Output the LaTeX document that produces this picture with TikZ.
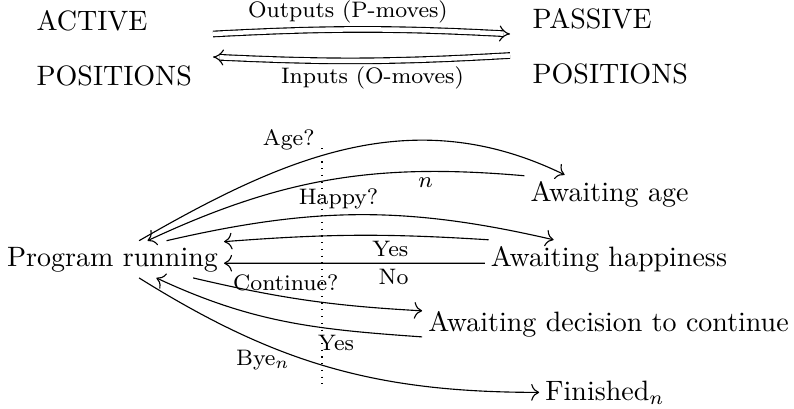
\documentclass[tikz,border=0pt]{standalone}
\usetikzlibrary{arrows.meta,calc}
\tikzstyle{situation}=[inner sep=2pt]
\tikzstyle{block}=[inner sep=0pt, align=left]
\tikzstyle{lbl}=[font=\footnotesize, inner sep=2pt]
\tikzstyle{move}=[draw, -{To[scale=1.15]}]
\tikzstyle{dmove}=[draw, double, double distance=1.6pt, -{Implies}]

\begin{document}
\begin{tikzpicture}[x=0.357pt, y=0.357pt]
  \useasboundingbox (0,0) rectangle (794,408);

  % position blocks
  \node[block, text width=62.8pt, anchor=north west] (active) at (36,398) {ACTIVE\\[7.6pt]POSITIONS};
  \node[block, anchor=north west] (passive) at (532,400) {PASSIVE\\[7.6pt]POSITIONS};

  % moves between them
  \draw[dmove] ($(active.north east)+(0,-24)$) to[bend left=3]
    node[lbl, above, pos=.45] {Outputs (P-moves)} ($(passive.north west)+(-22,-26)$);
  \draw[dmove] ($(passive.north west)+(-22,-47.5)$) to[bend left=3]
    node[lbl, below, pos=.46] {Inputs (O-moves)} ($(active.north east)+(0,-47)$);

  % states
  \node[situation, anchor=base] (prog) at (112.5,142) {Program running};
  \node[situation, anchor=base] (age) at (609.5,207) {Awaiting age};
  \node[situation, anchor=base] (hap) at (609,142) {Awaiting happiness};
  \node[situation, anchor=base] (dec) at (608.5,77) {Awaiting decision to continue};
  \node[situation, anchor=base] (fin) at (605,8) {Finished$_n$};

  \draw[dotted] (322,260) -- (322,18);

  % transitions
  \draw[move] (prog.35) to[out=30, in=154] node[lbl, pos=.43, anchor=south east] {Age?} (age.157);
  \draw[move] (age.168) to[out=175, in=25] node[lbl, pos=.24, below] {$n$} (prog.28);
  \draw[move] (prog.19) to[out=13, in=167] node[lbl, pos=.44, above] {Happy?} (hap.161);
  \draw[move] (hap.171) to[bend right=4] node[lbl, pos=.36, below] {Yes} (prog.9);
  \draw[move] (hap.182) -- node[lbl, pos=.35, below] {No} (prog.358);
  \draw[move] (prog.347) to[bend right=5] node[lbl, pos=.4, above] {Continue?} (dec.176);
  \draw[move] (dec.184) to[out=176, in=335] node[lbl, pos=.3, below] {Yes} (prog.337);
  \draw[move] (prog.325) to[out=328, in=180] node[lbl, pos=.32, below] {Bye$_n$} (fin.west);
\end{tikzpicture}
\end{document}
